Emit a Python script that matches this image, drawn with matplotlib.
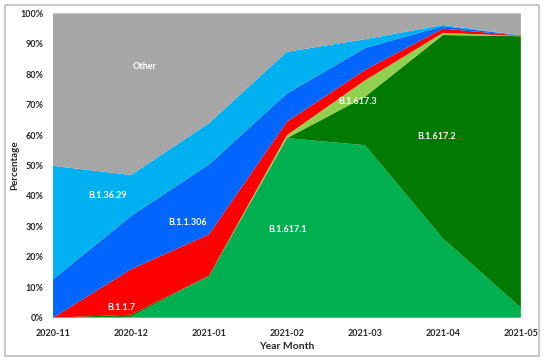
import matplotlib
matplotlib.use("Agg")
import matplotlib.pyplot as plt
from matplotlib.patches import Rectangle
from matplotlib.ticker import PercentFormatter

plt.rcParams['font.family'] = ['Lato', 'DejaVu Sans']

months = ["2020-11", "2020-12", "2021-01", "2021-02", "2021-03", "2021-04", "2021-05"]

# percentage share per lineage, stacked bottom -> top
b1617_1 = [0.0, 0.3, 13.8, 59.0, 56.7, 26.0, 3.3]
b1617_2 = [0.0, 0.7, 0.0, 0.0, 15.9, 66.9, 89.2]
b1617_3 = [0.0, 0.0, 0.0, 1.0, 5.4, 0.7, 0.1]
b117 = [0.0, 14.9, 13.6, 4.4, 3.4, 1.4, 0.1]
b11306 = [12.6, 17.5, 23.0, 9.3, 7.2, 0.8, 0.1]
b13629 = [37.3, 13.5, 13.5, 13.7, 2.9, 0.4, 0.0]
other = [50.1, 53.1, 36.1, 12.6, 8.5, 3.8, 7.2]

series = [b1617_1, b1617_2, b1617_3, b117, b11306, b13629, other]
names = ["B.1.617.1", "B.1.617.2", "B.1.617.3", "B.1.1.7", "B.1.1.306", "B.1.36.29", "Other"]
colors = ["#00B050", "#007A00", "#92D050", "#FF0000", "#0066FF", "#00B0F0", "#A6A6A6"]

# label positions (x index, y %)
label_pos = {
    "Other": (1.18, 82.7),
    "B.1.36.29": (0.70, 40.3),
    "B.1.1.306": (1.72, 31.4),
    "B.1.1.7": (0.88, 3.5),
    "B.1.617.1": (3.01, 29.1),
    "B.1.617.3": (3.91, 71.2),
    "B.1.617.2": (4.92, 59.7),
}

fig = plt.figure(figsize=(5.5, 3.62), dpi=100)
ax = fig.add_axes([0.0964, 0.1224, 0.8506, 0.8406])

x = list(range(len(months)))
ax.stackplot(x, *series, colors=colors, linewidth=0)

for name, (lx, ly) in label_pos.items():
    ax.text(lx, ly, name, color="white", fontsize=6.5, fontweight="bold",
            ha="center", va="center")

ax.set_xlim(0, len(months) - 1)
ax.set_ylim(0, 100)
ax.set_xticks(x)
ax.set_xticklabels(months)
ax.set_yticks(range(0, 101, 10))
ax.yaxis.set_major_formatter(PercentFormatter(decimals=0))
ax.tick_params(length=0, labelsize=6.5, colors="#262626")
ax.tick_params(axis="x", pad=8)
ax.tick_params(axis="y", pad=7)
for lab in ax.get_xticklabels() + ax.get_yticklabels():
    lab.set_fontweight("bold")
for s in ax.spines.values():
    s.set_visible(False)

ax.set_xlabel("Year Month", fontsize=7.5, fontweight="bold", color="#262626", labelpad=3)
ax.set_ylabel("Percentage", fontsize=7, fontweight="bold", color="#262626")
ax.yaxis.set_label_coords(-0.072, 0.5)

# chart border
fig.patches.append(Rectangle((5 / 550, 6 / 362), 534 / 550, 351 / 362,
                             transform=fig.transFigure, fill=False,
                             edgecolor="#BFBFBF", linewidth=1.2))

fig.savefig("out.png", dpi=100)
